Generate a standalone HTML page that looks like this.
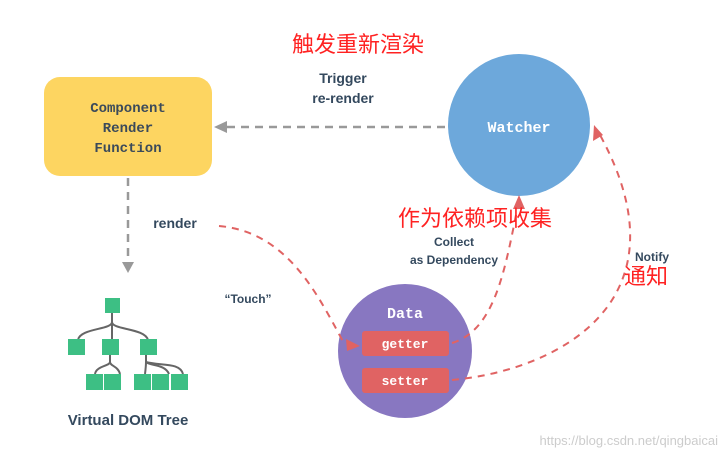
<!DOCTYPE html>
<html><head><meta charset="utf-8"><style>body{margin:0;background:#fff}svg{display:block}</style></head>
<body>
<svg width="724" height="453" viewBox="0 0 724 453" xmlns="http://www.w3.org/2000/svg">
<rect width="724" height="453" fill="#fff"/>
<rect x="44" y="77" width="168" height="99" rx="16" fill="#fdd561"/>
<g font-family="Liberation Mono, monospace" font-weight="bold" font-size="14" fill="#3b4a5a" text-anchor="middle">
<text x="128" y="112">Component</text><text x="128" y="132">Render</text><text x="128" y="152">Function</text></g>
<circle cx="519" cy="125" r="71" fill="#6da8db"/>
<text x="519" y="132" font-family="Liberation Mono, monospace" font-weight="bold" font-size="15" fill="#fff" text-anchor="middle">Watcher</text>
<circle cx="405" cy="351" r="67" fill="#8877c1"/>
<text x="405" y="318" font-family="Liberation Mono, monospace" font-weight="bold" font-size="15" fill="#fff" text-anchor="middle">Data</text>
<rect x="362" y="331" width="87" height="25" rx="3" fill="#e06363"/>
<rect x="362" y="368" width="87" height="25" rx="3" fill="#e06363"/>
<g font-family="Liberation Mono, monospace" font-weight="bold" font-size="13" fill="#fff" text-anchor="middle">
<text x="405" y="348">getter</text><text x="405" y="385">setter</text></g>
<g stroke="#999" stroke-width="2.5" stroke-dasharray="8,6" fill="none">
<line x1="445" y1="127" x2="226" y2="127"/><line x1="128" y1="178" x2="128" y2="262"/></g>
<polygon points="214,127 227,121 227,133" fill="#999"/>
<polygon points="128,273 122,262 134,262" fill="#999"/>
<g stroke="#e06363" stroke-width="2" stroke-dasharray="7,6" fill="none">
<path d="M219,226 C290,232 320,300 345,345"/>
<path d="M452,343 C495,330 505,270 518,205"/>
<path d="M452,380 C560,370 690,300 600,135"/>
</g>
<polygon points="360,346 346,339 347,351" fill="#e06363"/>
<polygon points="519,195 513,209 525,209" fill="#e06363"/>
<polygon points="594,125 593,141 603,135" fill="#e06363"/>
<g font-family="Liberation Sans, sans-serif" font-weight="bold" fill="#34495e" text-anchor="middle">
<text x="343" y="83" font-size="14">Trigger</text><text x="343" y="103" font-size="14">re-render</text>
<text x="175" y="228" font-size="14">render</text>
<text x="248" y="303" font-size="12">“Touch”</text>
<text x="454" y="246" font-size="12">Collect</text><text x="454" y="264" font-size="12">as Dependency</text>
<text x="652" y="261" font-size="12">Notify</text>
<text x="128" y="425" font-size="15">Virtual DOM Tree</text></g>
<g font-family="Liberation Sans, Noto Sans CJK SC, sans-serif" fill="#f22" font-size="22" text-anchor="middle">
<text x="358" y="52">触发重新渲染</text><text x="475" y="226">作为依赖项收集</text><text x="646" y="284">通知</text></g>
<g stroke="#666" stroke-width="2" fill="none">
<path d="M112,310 L112,322 C112,330 80,328 78,340"/><path d="M112,322 L112,340"/><path d="M112,322 C112,330 145,328 148,340"/>
<path d="M110,355 L110,362 C110,366 96,366 95,374"/><path d="M110,362 C110,366 118,366 120,374"/>
<path d="M146,355 L146,362 C146,366 146,366 145,374"/><path d="M146,362 C150,366 165,364 169,374"/><path d="M146,362 C160,366 180,362 183,374"/>
</g>
<g fill="#3dbf84">
<rect x="105" y="298" width="15" height="15"/>
<rect x="68" y="339" width="17" height="16"/><rect x="102" y="339" width="17" height="16"/><rect x="140" y="339" width="17" height="16"/>
<rect x="86" y="374" width="17" height="16"/><rect x="104" y="374" width="17" height="16"/><rect x="134" y="374" width="17" height="16"/><rect x="152" y="374" width="17" height="16"/><rect x="171" y="374" width="17" height="16"/>
</g>
<text x="718" y="445" font-family="Liberation Sans, sans-serif" font-size="13" fill="#ccc" text-anchor="end">https://blog.csdn.net/qingbaicai</text>
</svg>
</body></html>
